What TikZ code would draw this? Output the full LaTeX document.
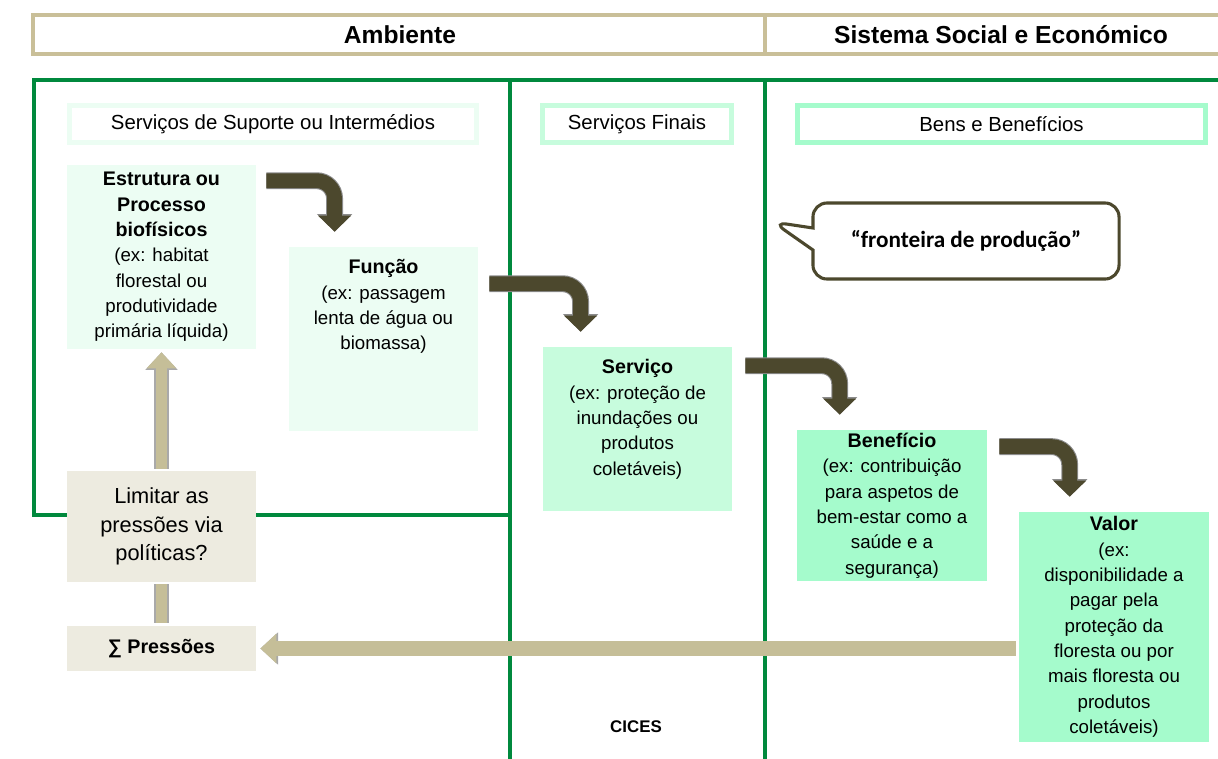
\documentclass[tikz,border=0pt]{standalone}
\usepackage{fontspec}
\setmainfont{Liberation Sans}
\newfontfamily\calloutfont{Carlito}
\usetikzlibrary{positioning, calc, arrows.meta, shapes.callouts}

\definecolor{frametan}{RGB}{201,191,152}
\definecolor{framegreen}{RGB}{0,137,61}
\definecolor{mintpale}{RGB}{236,253,243}
\definecolor{mintmid}{RGB}{199,252,221}
\definecolor{mintdeep}{RGB}{165,251,204}
\definecolor{beige}{RGB}{237,235,224}
\definecolor{olivedark}{RGB}{76,72,45}
\definecolor{paletan}{RGB}{197,190,152}
\definecolor{edgegrey}{RGB}{140,140,140}

\newcommand{\boxtitle}[1]{{\fontsize{14}{18}\selectfont\bfseries #1}}
\newcommand{\topbox}[2]{\parbox[t][#1][t]{4.6cm}{\centering\rule{0pt}{17pt}#2}}

\begin{document}
\begin{tikzpicture}[
    x=0.025cm, y=-0.025cm,
    every node/.style={align=center, inner sep=0.06cm, font=\fontsize{13.3}{18}\selectfont},
    heading/.style={font=\fontsize{17.5}{21}\selectfont\bfseries},
    colhead/.style={draw, fill=white, line width=3.5pt, minimum height=0.93cm, font=\fontsize{14.5}{17}\selectfont},
    stepbox/.style={minimum width=4.73cm},
    greenline/.style={draw=framegreen, line width=2.8pt},
    bendarrow/.style={draw=olivedark, line width=10.5pt, rounded corners=0.45cm, -{Triangle[width=0.8cm, length=0.4cm]},
        preaction={draw=edgegrey, line width=12pt, -{Triangle[width=0.86cm, length=0.44cm]}}},
    palearrow/.style={draw=paletan, line width=8.5pt, -{Triangle[width=0.72cm, length=0.4cm]},
        preaction={draw=edgegrey!75, line width=10pt, -{Triangle[width=0.78cm, length=0.44cm]}}}
]
\useasboundingbox (0,0) rectangle (1218,758);

% Title bar
\draw[frametan, line width=2.8pt] (33,15) rectangle (1240,54);
\draw[frametan, line width=2.8pt] (765,15) -- (765,54);
\node (ambiente) [heading] at (400,35) {Ambiente};
\node (socioeco) [heading] at (1001,35) {Sistema Social e Económico};

% Green frame
\draw[greenline] (34,80) rectangle (510,515);
\draw[greenline] (510,80) -- (1240,80);
\draw[greenline] (510,515) -- (510,770);
\draw[greenline] (765,80) -- (765,770);

% Column headings
\node (suporte) [colhead, draw=mintpale, minimum width=10.18cm] at (273,124) {Serviços de Suporte ou Intermédios};
\node (finais) [colhead, draw=mintmid, minimum width=4.72cm] at (637,124) {Serviços Finais};
\node (bens) [colhead, draw=mintdeep, minimum width=10.2cm] at (1001.5,124) {Bens e Benefícios};

% Cascade
\node (estrutura) [stepbox, fill=mintpale, minimum height=4.6cm] at (161.5,257)
  {\boxtitle{Estrutura ou}\\\boxtitle{Processo}\\\boxtitle{biofísicos}\\(ex: habitat\\florestal ou\\produtividade\\primária líquida)};
\node (funcao) [stepbox, fill=mintpale, minimum height=4.6cm] at (383.5,339)
  {\topbox{4.45cm}{\boxtitle{Função}\\(ex: passagem\\lenta de água ou\\biomassa)}};
\node (servico) [stepbox, fill=mintmid, minimum height=4.1cm] at (637.5,429)
  {\topbox{3.95cm}{\boxtitle{Serviço}\\(ex: proteção de\\inundações ou\\produtos\\coletáveis)}};
\node (beneficio) [stepbox, fill=mintdeep, minimum width=4.75cm, minimum height=3.78cm] at (892,505.5)
  {\boxtitle{Benefício}\\(ex: contribuição\\para aspetos de\\bem-estar como a\\saúde e a\\segurança)};
\node (valor) [stepbox, fill=mintdeep, minimum width=4.75cm, minimum height=5.75cm] at (1114,627)
  {\boxtitle{Valor}\\(ex:\\disponibilidade a\\pagar pela\\proteção da\\floresta ou por\\mais floresta ou\\produtos\\coletáveis)};

% Pressures and policy
\node (limitar) [stepbox, fill=beige, minimum height=2.78cm, font=\fontsize{15.5}{20.5}\selectfont] at (161.5,526.5)
  {Limitar as\\pressões via\\políticas?};
\node (pressoes) [stepbox, fill=beige, minimum height=1.12cm, font=\fontsize{14}{17}\selectfont\bfseries] at (161.5,648.5)
  {∑ Pressões};

% Production boundary
\coordinate (frontier) at (773,222);
\node (fronteira) [rectangle callout, draw=olivedark, line width=2.2pt, rounded corners=0.35cm, fill=white,
  minimum width=7.65cm, minimum height=1.9cm, callout absolute pointer={(frontier)}, callout pointer width=0.55cm,
  font=\calloutfont\bfseries\fontsize{16.5}{20}\selectfont] at (966,241) {“fronteira de produção”};

\node (cices) [font=\fontsize{12}{14}\selectfont\bfseries] at (636,727) {CICES};

% Bent arrows
\draw[bendarrow] ($(estrutura.north east)+(10,16)$) -| ($(funcao.north west)+(46,-15)$);
\draw[bendarrow] ($(funcao.north east)+(11,37)$) -| ($(servico.north west)+(38,-15)$);
\draw[bendarrow] ($(servico.north east)+(13,19)$) -| ($(beneficio.north west)+(43,-15)$);
\draw[bendarrow] ($(beneficio.north east)+(12,17)$) -| ($(valor.north west)+(51,-15)$);

% Feedback
\draw[palearrow] ($(limitar.north)+(0,-2)$) -- ($(estrutura.south)+(0,3)$);
\draw[draw=paletan, line width=8.5pt, preaction={draw=edgegrey!75, line width=10pt}] ($(pressoes.north)+(0,-3)$) -- ($(limitar.south)+(0,2)$);
\draw[palearrow, line width=10pt, preaction={line width=11.5pt}] ($(valor.west |- pressoes.east)+(-3,0)$) -- ($(pressoes.east)+(4,0)$);

\end{tikzpicture}
\end{document}
